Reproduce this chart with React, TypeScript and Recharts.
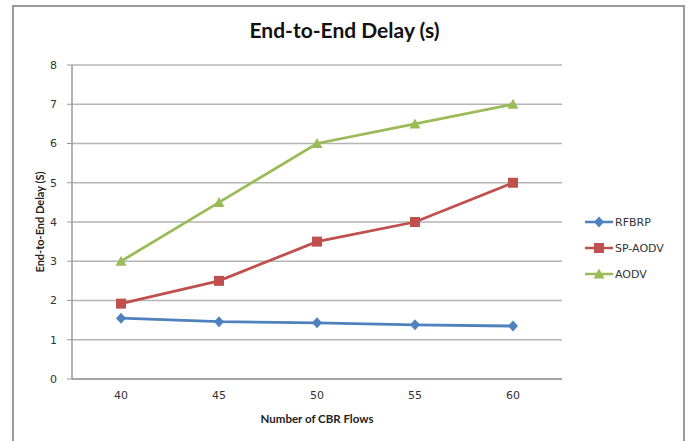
import React from 'react';
import { LineChart, Line, XAxis, YAxis, CartesianGrid, Legend } from 'recharts';

const flows = ['40', '45', '50', '55', '60'];
const rfbrp = [1.55, 1.46, 1.43, 1.38, 1.35];
const spAodv = [1.92, 2.5, 3.5, 4.0, 5.0];
const aodv = [3.0, 4.5, 6.0, 6.5, 7.0];
const yTicks = [0, 1, 2, 3, 4, 5, 6, 7, 8];

const SERIES = [
  { key: 'RFBRP', color: '#4F81BD', shape: 'diamond' },
  { key: 'SP-AODV', color: '#C0504D', shape: 'square' },
  { key: 'AODV', color: '#9BBB59', shape: 'triangle' },
];

const data = flows.map((f, i) => ({
  flow: f,
  RFBRP: rfbrp[i],
  'SP-AODV': spAodv[i],
  AODV: aodv[i],
}));

function Marker({ cx, cy, shape, color }: { cx: number; cy: number; shape: string; color: string }) {
  if (shape === 'diamond') {
    return <polygon points={`${cx},${cy - 5.5} ${cx + 5},${cy} ${cx},${cy + 5.5} ${cx - 5},${cy}`} fill={color} />;
  }
  if (shape === 'square') {
    return <rect x={cx - 5} y={cy - 5} width={10} height={10} fill={color} />;
  }
  return <polygon points={`${cx},${cy - 5.5} ${cx + 5.5},${cy + 4.5} ${cx - 5.5},${cy + 4.5}`} fill={color} />;
}

function makeDot(shape: string, color: string) {
  // eslint-disable-next-line @typescript-eslint/no-explicit-any
  return (props: any) => {
    if (props.cx == null || props.cy == null) return <g key={props.index} />;
    return <Marker key={props.index} cx={props.cx} cy={props.cy} shape={shape} color={color} />;
  };
}

function LegendBox() {
  return (
    <svg width={100} height={80}>
      {SERIES.map((s, i) => {
        const y = 10 + i * 26;
        return (
          <g key={s.key}>
            <line x1={0} y1={y} x2={28} y2={y} stroke={s.color} strokeWidth={2.5} />
            <Marker cx={14} cy={y} shape={s.shape} color={s.color} />
            <text x={30} y={y} dy="0.35em" fontSize={11} fill="#333" fontFamily="DejaVu Sans">
              {s.key}
            </text>
          </g>
        );
      })}
    </svg>
  );
}

export default function App() {
  return (
    <div style={{ position: 'absolute', left: 0, top: 0, width: 689, height: 441, background: '#fff', overflow: 'hidden' }}>
      <div
        style={{
          position: 'absolute',
          left: 12,
          top: 5,
          width: 669,
          height: 460,
          border: '2px solid #9a9a9a',
        }}
      />
      <div
        style={{
          position: 'absolute',
          left: 0,
          top: 17,
          width: 689,
          textAlign: 'center',
          fontFamily: 'Lato',
          fontWeight: 700,
          fontSize: 21,
          color: '#111',
        }}
      >
        End-to-End Delay (s)
      </div>
      <div style={{ position: 'absolute', left: 0, top: 0 }}>
        <LineChart width={689} height={441} data={data} margin={{ top: 65, right: 127, bottom: 32, left: 8 }}>
          <CartesianGrid vertical={false} stroke="#b5b5b5" strokeWidth={1.5} />
          <XAxis
            dataKey="flow"
            padding={{ left: 49, right: 49 }}
            height={30}
            tickLine={false}
            tickSize={6}
            tickMargin={6}
            axisLine={{ stroke: '#9a9a9a', strokeWidth: 1.5 }}
            tick={{ fontSize: 11, fill: '#333', fontFamily: 'DejaVu Sans' }}
            label={{
              value: 'Number of CBR Flows',
              position: 'bottom',
              offset: 6,
              style: { fontSize: 11.5, fontWeight: 700, fill: '#222', fontFamily: 'Lato' },
            }}
          />
          <YAxis
            domain={[0, 8]}
            ticks={yTicks}
            width={64}
            tickSize={5}
            tickMargin={10}
            tickLine={{ stroke: '#9a9a9a' }}
            axisLine={{ stroke: '#9a9a9a', strokeWidth: 1.5 }}
            tick={{ fontSize: 11, fill: '#333', fontFamily: 'DejaVu Sans' }}
            label={{
              value: 'End-to-End  Delay (S)',
              angle: -90,
              position: 'center',
              style: { fontSize: 11, fontWeight: 700, fill: '#222', fontFamily: 'Lato', textAnchor: 'middle' },
            }}
          />
          <Legend
            layout="horizontal"
            align="center"
            verticalAlign="middle"
            content={() => <LegendBox />}
            wrapperStyle={{ left: 585, top: 212, width: 100, height: 80 }}
          />
          {SERIES.map((s) => (
            <Line
              key={s.key}
              dataKey={s.key}
              stroke={s.color}
              strokeWidth={2.8}
              dot={makeDot(s.shape, s.color)}
              activeDot={false}
              isAnimationActive={false}
            />
          ))}
        </LineChart>
      </div>
    </div>
  );
}
